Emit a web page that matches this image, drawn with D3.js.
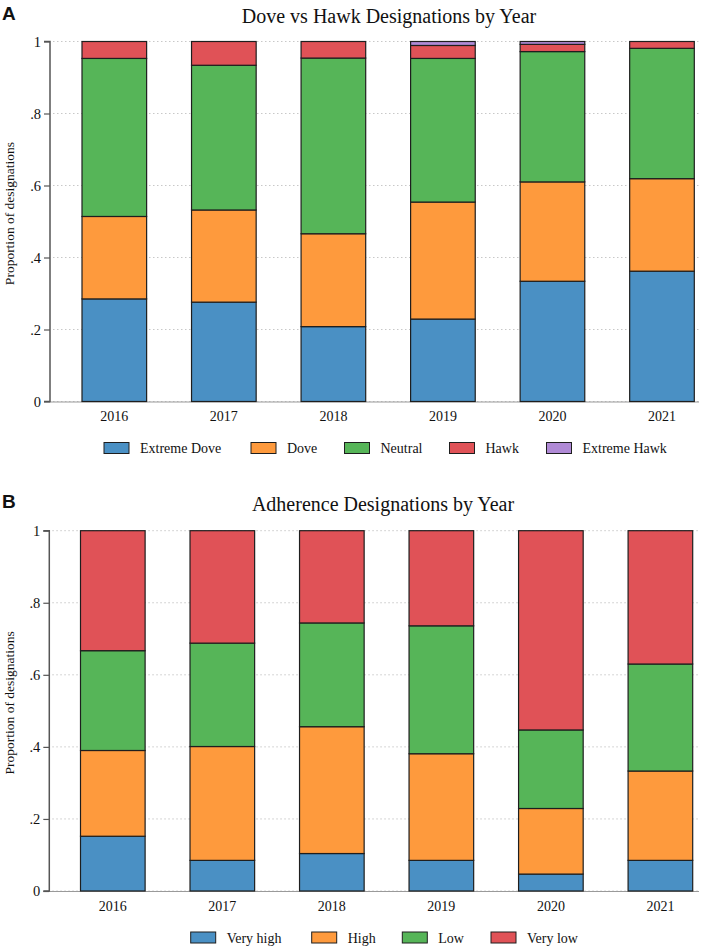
<!DOCTYPE html>
<html>
<head>
<meta charset="utf-8">
<script src="https://cdn.jsdelivr.net/npm/d3@7"></script>
<style>
  body { margin: 0; background: #fff; }
  svg { display: block; }
  text { font-family: "Liberation Serif", "Times New Roman", serif; fill: #111; }
</style>
</head>
<body>
<svg id="chart" width="701" height="947"></svg>
<script>
const years = ["2016", "2017", "2018", "2019", "2020", "2021"];
const yTicks = [0, 0.2, 0.4, 0.6, 0.8, 1];
const yTickLabels = ["0", ".2", ".4", ".6", ".8", "1"];

// Panel A
const seriesA = ["Extreme Dove", "Dove", "Neutral", "Hawk", "Extreme Hawk"];
const extremeDove = [0.285, 0.276, 0.208, 0.229, 0.334, 0.362];
const dove        = [0.229, 0.256, 0.258, 0.325, 0.276, 0.257];
const neutral     = [0.439, 0.402, 0.488, 0.399, 0.362, 0.362];
const hawk        = [0.047, 0.066, 0.046, 0.036, 0.020, 0.019];
const extremeHawk = [0.000, 0.000, 0.000, 0.011, 0.008, 0.000];

// Panel B
const seriesB = ["Very high", "High", "Low", "Very low"];
const veryHigh = [0.152, 0.085, 0.104, 0.085, 0.047, 0.085];
const high     = [0.238, 0.316, 0.352, 0.296, 0.182, 0.248];
const low      = [0.277, 0.287, 0.288, 0.355, 0.218, 0.297];
const veryLow  = [0.333, 0.312, 0.256, 0.264, 0.553, 0.370];

const colors = ["#4a90c4", "#fe9a3d", "#56b558", "#e05257", "#b08ad6"];

const svg = d3.select("#chart");

function panel(cfg) {
  const { letter, title, series, values, top, bottom, axisX, barRange, titleX, titleY, legend } = cfg;
  const g = svg.append("g");
  const y = d3.scaleLinear().domain([0, 1]).range([bottom, top]);
  const x = d3.scaleBand().domain(years).range(barRange).paddingInner(0.41).paddingOuter(0);

  g.append("text").attr("x", 2).attr("y", cfg.letterY)
    .style("font-family", "Liberation Sans, Arial, sans-serif")
    .style("font-weight", "bold").style("font-size", "19px").text(letter);

  g.append("text").attr("x", titleX).attr("y", titleY).attr("text-anchor", "middle")
    .style("font-size", "20px").text(title);

  g.append("g").selectAll("line").data(yTicks).join("line")
    .attr("x1", axisX + 3).attr("x2", 699)
    .attr("y1", d => y(d)).attr("y2", d => y(d))
    .attr("stroke", "#c8c8c8").attr("stroke-width", 1).attr("stroke-dasharray", "1.5,2.5");

  g.append("line").attr("x1", axisX).attr("x2", 699).attr("y1", bottom + 0.5).attr("y2", bottom + 0.5)
    .attr("stroke", "#9a9a9a").attr("stroke-width", 1.2);

  const rows = years.map((yr, i) => {
    const o = { year: yr };
    series.forEach((s, j) => o[s] = values[j][i]);
    return o;
  });
  const stacked = d3.stack().keys(series)(rows);
  const bars = g.append("g");
  stacked.forEach((layer, j) => {
    bars.append("g").selectAll("rect").data(layer.filter(d => d[1] - d[0] > 0)).join("rect")
      .attr("x", d => x(d.data.year))
      .attr("width", x.bandwidth())
      .attr("y", d => y(d[1]))
      .attr("height", d => y(d[0]) - y(d[1]))
      .attr("fill", colors[j])
      .attr("stroke", "#1e1e1e").attr("stroke-width", 1.2);
  });

  const yAxis = d3.axisLeft(y).tickValues(yTicks).tickFormat((d, i) => yTickLabels[i]).tickSize(6).tickPadding(3);
  const ya = g.append("g").attr("transform", `translate(${axisX},0)`).call(yAxis);
  ya.select(".domain").attr("stroke", "#555").attr("stroke-width", 1.5).attr("d", `M-6,${top}H0V${bottom}H-6`);
  ya.selectAll(".tick line").attr("stroke", "#555").attr("stroke-width", 1.2);
  ya.selectAll(".tick text").style("font-family", "Liberation Serif, Times New Roman, serif")
    .style("font-size", "14.5px").attr("fill", "#111");

  g.append("text").attr("transform", `translate(14,${(top + bottom) / 2 - 8}) rotate(-90)`)
    .attr("text-anchor", "middle").style("font-size", "13.5px").text("Proportion of designations");

  const xAxis = d3.axisBottom(x).tickSize(0).tickPadding(10);
  const xa = g.append("g").attr("transform", `translate(0,${bottom})`).call(xAxis);
  xa.select(".domain").remove();
  xa.selectAll(".tick text").style("font-family", "Liberation Serif, Times New Roman, serif")
    .style("font-size", "14px").attr("fill", "#111");

  const lg = g.append("g");
  series.forEach((s, j) => {
    lg.append("rect").attr("x", legend.xs[j]).attr("y", legend.y - 5.5)
      .attr("width", 25).attr("height", 11)
      .attr("fill", colors[j]).attr("stroke", "#1e1e1e").attr("stroke-width", 1);
    lg.append("text").attr("x", legend.xs[j] + 36).attr("y", legend.y + 5)
      .style("font-size", "14px").text(s);
  });
}

panel({
  letter: "A", letterY: 20, title: "Dove vs Hawk Designations by Year",
  series: seriesA, values: [extremeDove, dove, neutral, hawk, extremeHawk],
  top: 41.5, bottom: 401.5, axisX: 50, barRange: [82, 694.3],
  titleX: 389, titleY: 23,
  legend: { y: 448, xs: [104, 251, 344.5, 449.5, 546.5] }
});

panel({
  letter: "B", letterY: 508, title: "Adherence Designations by Year",
  series: seriesB, values: [veryHigh, high, low, veryLow],
  top: 530.7, bottom: 891, axisX: 49.3, barRange: [80.5, 692.7],
  titleX: 383, titleY: 511,
  legend: { y: 937.5, xs: [190.7, 311.7, 402.3, 491] }
});
</script>
</body>
</html>
